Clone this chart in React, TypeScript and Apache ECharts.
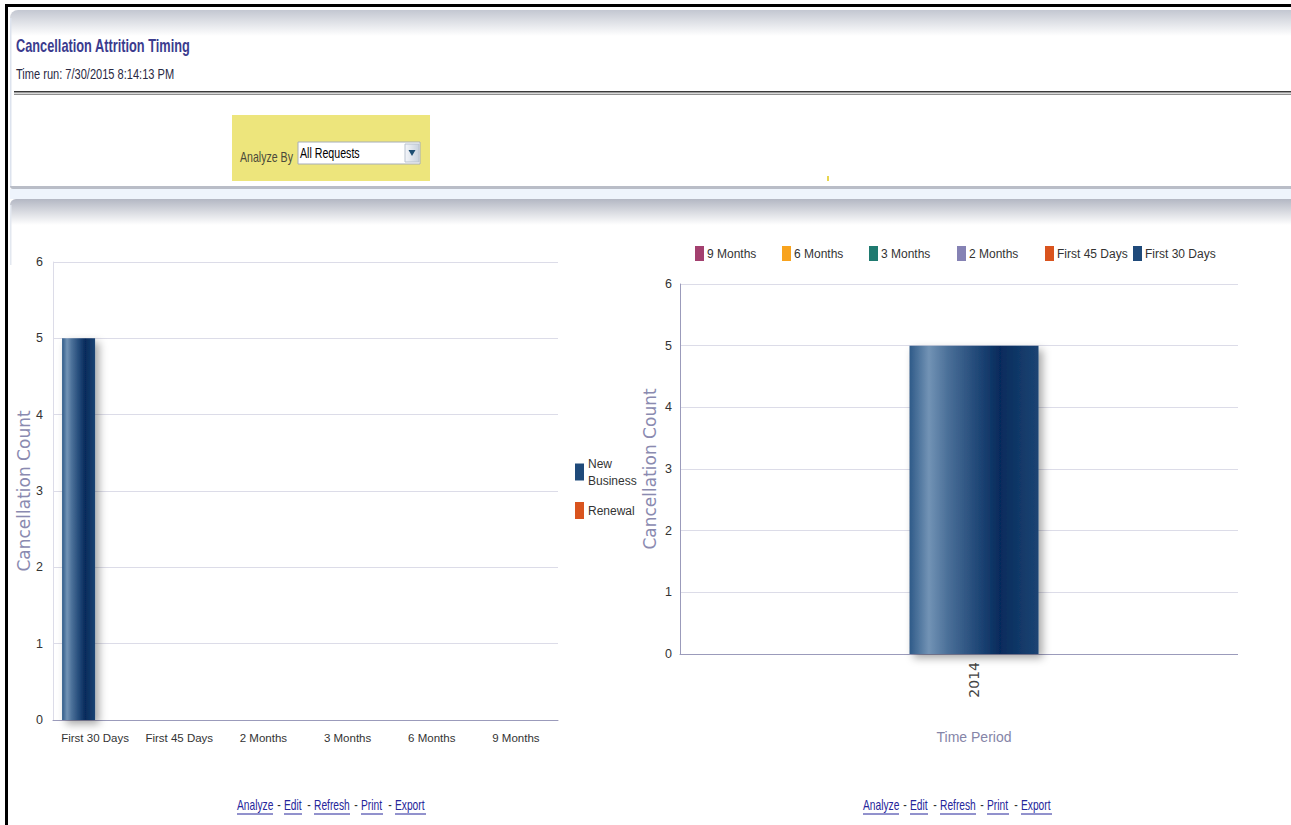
import React, { useEffect, useRef } from "react";
import * as echarts from "echarts";

// ---- data ----
const leftCategories = ["First 30 Days", "First 45 Days", "2 Months", "3 Months", "6 Months", "9 Months"];
const newBusiness = [5, 0, 0, 0, 0, 0];
const renewal = [0, 0, 0, 0, 0, 0];

const rightCategories = ["2014"];
const periodNames = ["9 Months", "6 Months", "3 Months", "2 Months", "First 45 Days", "First 30 Days"];
const periodValues = [[0], [0], [0], [0], [0], [5]];

const footerLinks = ["Analyze", "Edit", "Refresh", "Print", "Export"];

// ---- styles ----
const SANS = "'Liberation Sans', Arial, sans-serif";
const WIDE = "'DejaVu Sans', 'Liberation Sans', sans-serif";
const periodColors = ["#a3406f", "#f8a31e", "#1f7a70", "#8582b4", "#d9541e", "#1f4a7a"];
const NAVY = "#1f4a7a";
const ORANGE = "#d9541e";

const barGradient = () =>
  new echarts.graphic.LinearGradient(0, 0, 1, 0, [
    { offset: 0, color: "#2f5a88" },
    { offset: 0.15, color: "#7293b5" },
    { offset: 0.3, color: "#4a6f98" },
    { offset: 0.55, color: "#1d4474" },
    { offset: 0.7, color: "#062b5c" },
    { offset: 1, color: "#1c4473" },
  ]);

const barShadow = {
  shadowBlur: 8,
  shadowColor: "rgba(0,0,0,0.35)",
  shadowOffsetX: 4,
  shadowOffsetY: 4,
};

const narrowText = (text: string, x: number, y: number, size: number, fill: string, sx: number, extra: any = {}) => ({
  type: "text",
  x,
  y,
  scaleX: sx,
  style: { text, fontFamily: SANS, fontSize: size, fill, verticalAlign: "middle", textVerticalAlign: "middle", ...extra },
});

export default function App() {
  const ref = useRef<HTMLDivElement>(null);

  useEffect(() => {
    if (!ref.current) return;
    const chart = echarts.init(ref.current, undefined, { renderer: "svg" });

    const linkGraphics: any[] = [];
    const linkX = [237, 284, 314, 361, 395];
    const linkW = [36, 18, 36, 22, 31];
    [0, 626].forEach((dx) => {
      footerLinks.forEach((w, i) => {
        linkGraphics.push(narrowText(w, linkX[i] + dx, 805, 14, "#25259a", 0.73));
        linkGraphics.push({
          type: "line",
          shape: { x1: linkX[i] + dx, y1: 814, x2: linkX[i] + dx + linkW[i], y2: 814 },
          style: { stroke: "#25259a", lineWidth: 1 },
        });
        if (i > 0) {
          linkGraphics.push(narrowText("-", linkX[i] + dx - 5, 805, 14, "#333", 0.75, { align: "center", textAlign: "center" }));
        }
      });
    });

    // right-hand legend: one fixed-width slot per period
    const slotLeft = [695, 782, 869, 957, 1045, 1133];
    const periodLegends = periodNames.map((n, i) => ({
      orient: "horizontal",
      left: slotLeft[i],
      top: 246,
      padding: 0,
      itemWidth: 9,
      itemHeight: 15,
      icon: "rect",
      data: [{ name: n, itemStyle: { color: periodColors[i] } }],
      textStyle: { fontFamily: SANS, fontSize: 12, color: "#333", padding: [0, 0, 0, -2] },
    }));

    const option: any = {
      animation: false,
      backgroundColor: "#ffffff",
      graphic: [
        // outer black frame
        { type: "rect", shape: { x: 5, y: 4, width: 1286, height: 3 }, style: { fill: "#000" } },
        { type: "rect", shape: { x: 5, y: 4, width: 3, height: 821 }, style: { fill: "#000" } },
        // header panel gradient
        {
          type: "rect",
          shape: { x: 10, y: 10, width: 1281, height: 26, r: [8, 0, 0, 0] },
          style: { fill: new echarts.graphic.LinearGradient(0, 0, 0, 1, [{ offset: 0, color: "#c3c7d1" }, { offset: 1, color: "#ffffff" }]) },
        },
        { type: "rect", shape: { x: 10, y: 18, width: 1.5, height: 168 }, style: { fill: "#dde3ee" } },
        narrowText("Cancellation Attrition Timing", 16, 46, 18, "#3b3b8e", 0.71, { fontWeight: "bold" }),
        narrowText("Time run: 7/30/2015 8:14:13 PM", 16, 75, 14, "#2a2a44", 0.79),
        { type: "rect", shape: { x: 14, y: 91, width: 1277, height: 1.6 }, style: { fill: "#3a3a3a" } },
        { type: "rect", shape: { x: 14, y: 93.8, width: 1277, height: 1 }, style: { fill: "#6a6a6a" } },
        // analyze-by prompt
        { type: "rect", shape: { x: 232, y: 115, width: 198, height: 66 }, style: { fill: "#ede57c" } },
        narrowText("Analyze By", 240, 157, 14, "#4a4a3a", 0.757),
        { type: "rect", shape: { x: 298, y: 142, width: 122, height: 22 }, style: { fill: "#ffffff", stroke: "#a6adb8", lineWidth: 1 } },
        narrowText("All Requests", 300, 153, 14, "#000", 0.76),
        {
          type: "rect",
          shape: { x: 405, y: 144, width: 14, height: 18 },
          style: { fill: new echarts.graphic.LinearGradient(0, 0, 1, 0, [{ offset: 0, color: "#f4f6fa" }, { offset: 1, color: "#c9d2de" }]), stroke: "#b9c2cf", lineWidth: 1 },
        },
        { type: "polygon", shape: { points: [[408.5, 150], [415.5, 150], [412, 156]] }, style: { fill: "#1c4d72" } },
        { type: "rect", shape: { x: 827, y: 176, width: 2, height: 5 }, style: { fill: "#e8d64e" } },
        // header panel bottom / second panel top
        { type: "rect", shape: { x: 10, y: 186, width: 1281, height: 3, r: [0, 0, 0, 4] }, style: { fill: "#b9bdc7" } },
        { type: "rect", shape: { x: 10, y: 189, width: 1281, height: 10 }, style: { fill: "#eef4fc" } },
        {
          type: "rect",
          shape: { x: 10, y: 199, width: 1281, height: 26, r: [6, 0, 0, 0] },
          style: { fill: new echarts.graphic.LinearGradient(0, 0, 0, 1, [{ offset: 0, color: "#b3b7c3" }, { offset: 1, color: "#ffffff" }]) },
        },
        { type: "rect", shape: { x: 10, y: 205, width: 1.5, height: 60 }, style: { fill: "#e3e8f0" } },
        // plot area of the right chart ends at x=1237
        { type: "rect", z: 100, shape: { x: 1238, y: 278, width: 40, height: 380 }, style: { fill: "#ffffff" } },
        ...linkGraphics,
      ],
      legend: [
        {
          orient: "vertical",
          left: 575,
          top: 455,
          padding: 0,
          itemWidth: 9,
          itemHeight: 17,
          itemGap: 13,
          icon: "rect",
          data: [
            { name: "New Business", itemStyle: { color: NAVY } },
            { name: "Renewal", itemStyle: { color: ORANGE } },
          ],
          formatter: (n: string) => (n === "New Business" ? "New\nBusiness" : n),
          textStyle: { fontFamily: SANS, fontSize: 12, color: "#333", lineHeight: 17, padding: [0, 0, 0, -1] },
        },
        ...periodLegends,
      ],
      grid: [
        { left: 53, top: 262, width: 505, height: 458 },
        { left: 680, top: 284, width: 588, height: 370 },
      ],
      xAxis: [
        {
          type: "category",
          gridIndex: 0,
          data: leftCategories,
          axisLine: { lineStyle: { color: "#9b9bbb", width: 1 } },
          axisTick: { show: false },
          axisLabel: { fontFamily: SANS, fontSize: 11.5, color: "#333", margin: 12, interval: 0 },
        },
        {
          type: "category",
          gridIndex: 1,
          data: rightCategories,
          name: "Time Period",
          nameLocation: "middle",
          nameGap: 76,
          nameTextStyle: { fontFamily: SANS, fontSize: 14, color: "#8585a8" },
          axisLine: { lineStyle: { color: "#9b9bbb", width: 1 } },
          axisTick: { show: false },
          axisLabel: { fontFamily: WIDE, fontSize: 14, color: "#444", rotate: 90, margin: 8 },
        },
      ],
      yAxis: [
        {
          type: "value",
          gridIndex: 0,
          min: 0,
          max: 6,
          interval: 1,
          name: "Cancellation Count",
          nameLocation: "middle",
          nameGap: 21,
          nameTextStyle: { fontFamily: WIDE, fontSize: 17, color: "#8a8ab0" },
          axisLine: { show: true, lineStyle: { color: "#dcdce8" } },
          axisTick: { show: false },
          splitLine: { lineStyle: { color: "#dcdce8" } },
          axisLabel: { fontFamily: SANS, fontSize: 12.5, color: "#333", margin: 10 },
        },
        {
          type: "value",
          gridIndex: 1,
          min: 0,
          max: 6,
          interval: 1,
          name: "Cancellation Count",
          nameLocation: "middle",
          nameGap: 22,
          nameTextStyle: { fontFamily: WIDE, fontSize: 17, color: "#8a8ab0" },
          axisLine: { show: true, lineStyle: { color: "#9b9bbb" } },
          axisTick: { show: false },
          splitLine: { lineStyle: { color: "#dcdce8" } },
          axisLabel: { fontFamily: SANS, fontSize: 12.5, color: "#333", margin: 8 },
        },
      ],
      series: [
        {
          name: "New Business",
          type: "bar",
          xAxisIndex: 0,
          yAxisIndex: 0,
          data: newBusiness,
          barWidth: 33,
          barGap: "0%",
          color: NAVY,
          itemStyle: { color: barGradient(), ...barShadow },
        },
        {
          name: "Renewal",
          type: "bar",
          xAxisIndex: 0,
          yAxisIndex: 0,
          data: renewal,
          barWidth: 33,
          barGap: "0%",
          color: ORANGE,
          itemStyle: { color: ORANGE },
        },
        ...periodNames.map((n, i) => ({
          name: n,
          type: "bar",
          xAxisIndex: 1,
          yAxisIndex: 1,
          stack: "period",
          data: periodValues[i],
          barWidth: 129,
          color: periodColors[i],
          itemStyle: i === periodNames.length - 1 ? { color: barGradient(), ...barShadow } : { color: periodColors[i] },
        })),
      ],
    };

    chart.setOption(option);
    return () => chart.dispose();
  }, []);

  return (
    <div
      ref={ref}
      style={{ position: "fixed", left: 0, top: 0, width: 1291, height: 825, background: "#fff" }}
    />
  );
}
